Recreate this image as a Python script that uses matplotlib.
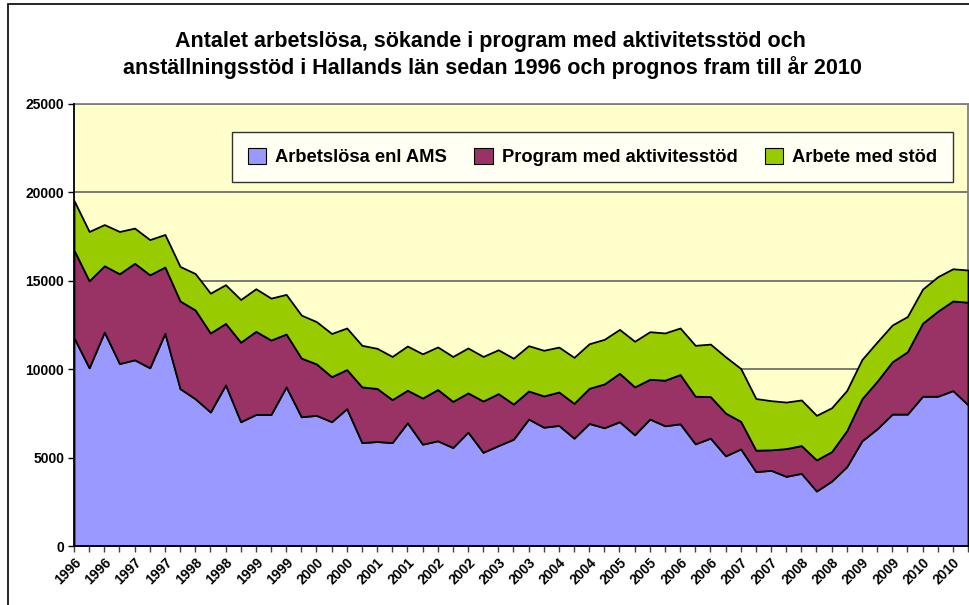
import numpy as np
import matplotlib.pyplot as plt
from matplotlib.patches import Patch, Rectangle

plt.rcParams['font.family'] = ['Liberation Sans', 'DejaVu Sans']

# quarterly values, 1996 - 2010
arbetslosa = [11780, 10080, 12100, 10320, 10530, 10080, 12030, 8900, 8330, 7580,
              9110, 7030, 7440, 7440, 9000, 7310, 7390, 7030, 7770, 5850,
              5910, 5850, 6970, 5760, 5950, 5570, 6440, 5300, 5680, 6040,
              7180, 6720, 6820, 6100, 6930, 6690, 7030, 6290, 7180, 6800,
              6910, 5780, 6100, 5100, 5490, 4210, 4280, 3940, 4110, 3110,
              3670, 4490, 5950, 6630, 7460, 7460, 8470, 8470, 8790, 7990]
program = [4960, 4920, 3750, 5080, 5460, 5260, 3750, 4960, 5020, 4470,
           3480, 4500, 4700, 4210, 2990, 3320, 2910, 2550, 2210, 3150,
           3000, 2430, 1840, 2610, 2900, 2610, 2220, 2900, 2940, 1990,
           1590, 1770, 1890, 1970, 1990, 2480, 2740, 2710, 2250, 2580,
           2790, 2690, 2350, 2420, 1560, 1210, 1160, 1570, 1570, 1760,
           1670, 2040, 2380, 2690, 2960, 3530, 4130, 4810, 5070, 5800]
arbete = [2800, 2790, 2330, 2390, 1990, 1990, 1840, 1950, 2060, 2250,
          2190, 2410, 2410, 2370, 2240, 2430, 2390, 2440, 2350, 2350,
          2270, 2440, 2500, 2500, 2410, 2540, 2540, 2520, 2480, 2590,
          2560, 2580, 2540, 2600, 2520, 2520, 2480, 2580, 2690, 2670,
          2630, 2880, 2970, 3180, 2990, 2920, 2780, 2630, 2580, 2520,
          2480, 2270, 2220, 2220, 2080, 1990, 1930, 1950, 1820, 1820]
years = [1996 + i // 4 for i in range(60)]
series_names = ['Arbetslösa enl AMS', 'Program med aktivitesstöd', 'Arbete med stöd']
colors = ['#9999FF', '#993366', '#99CC00']

W, H = 970, 605
fig = plt.figure(figsize=(W / 100, H / 100), dpi=100)
fig.patches.append(Rectangle((8 / W, -0.1), 1.2, (H - 4) / H + 0.1, transform=fig.transFigure,
                             fill=False, edgecolor='black', linewidth=1.2))

left, right, top, bottom = 74, 968, 104, 546
ax = fig.add_axes([left / W, (H - bottom) / H, (right - left) / W, (bottom - top) / H])
ax.set_facecolor('#FFFFCC')

x = np.arange(len(arbetslosa))
ax.stackplot(x, arbetslosa, program, arbete, colors=colors,
             edgecolor='black', linewidth=1.3, zorder=3)

ax.set_xlim(0, len(x) - 1)
ax.set_ylim(0, 25000)
ax.set_yticks(np.arange(0, 25001, 5000))
ax.yaxis.grid(True, color='#707070', linewidth=1.3, zorder=1)
ax.set_axisbelow(True)

ax.set_xticks(x)
ax.set_xticklabels([str(y) if i % 2 == 0 else '' for i, y in enumerate(years)],
                   rotation=45, ha='right', rotation_mode='anchor',
                   fontsize=10, fontweight='bold')
for lab in ax.get_yticklabels():
    lab.set_fontweight('bold')
    lab.set_fontsize(10)
ax.tick_params(axis='x', length=4, width=1, color='#404040', pad=3)
ax.tick_params(axis='y', length=4, width=1, color='black', pad=3)

for s in ['left', 'bottom']:
    ax.spines[s].set_color('black')
    ax.spines[s].set_linewidth(1.3)
    ax.spines[s].set_zorder(5)
for s in ['top', 'right']:
    ax.spines[s].set_color('#808080')
    ax.spines[s].set_linewidth(1.3)

handles = [Patch(facecolor=c, edgecolor='black', linewidth=0.8) for c in colors]
leg = ax.legend(handles, series_names, loc='lower left', ncol=3, mode='expand',
                bbox_to_anchor=(0.177, 0.824, 0.806, 0.14),
                prop={'weight': 'bold', 'size': 13.2}, frameon=True, fancybox=False,
                handlelength=1.0, handleheight=1.0, handletextpad=0.5,
                borderaxespad=0, borderpad=0.85, columnspacing=0.6)
leg.get_frame().set_edgecolor('black')
leg.get_frame().set_linewidth(1.0)
leg.get_frame().set_facecolor('white')
leg.set_zorder(10)

fig.text(490 / W, 1 - 42 / H, 'Antalet arbetslösa, sökande i program med aktivitetsstöd och',
         ha='center', va='center', fontsize=15.5, fontweight='bold')
fig.text(492 / W, 1 - 68 / H, 'anställningsstöd i Hallands län sedan 1996 och prognos fram till år 2010',
         ha='center', va='center', fontsize=15.5, fontweight='bold')

fig.savefig('out.png', dpi=100)
